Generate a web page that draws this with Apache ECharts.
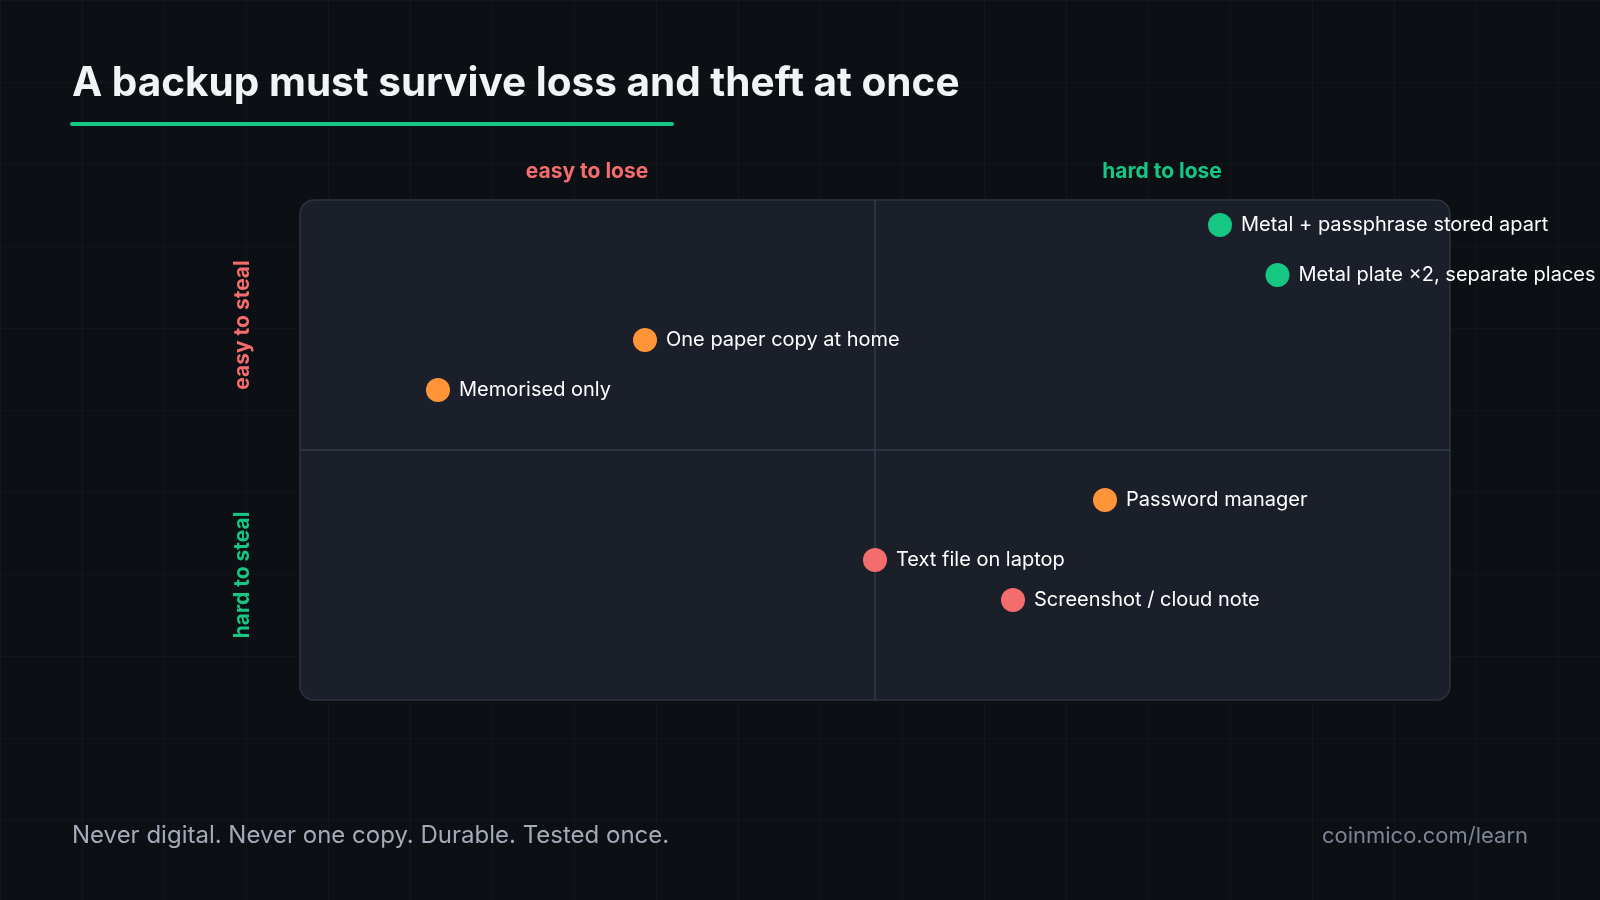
<!DOCTYPE html>
<html><head><meta charset="utf-8">
<script src="https://cdn.jsdelivr.net/npm/echarts@6/dist/echarts.min.js"></script>
<style>
html,body{margin:0;padding:0;background:#0c0f14;}
#c{width:1600px;height:900px;
background-color:#0c0f14;
background-image:linear-gradient(rgba(255,255,255,0.025) 1px,transparent 1px),linear-gradient(90deg,rgba(255,255,255,0.025) 1px,transparent 1px);
background-size:82px 82px;}
</style></head><body><div id="c"></div>
<script>
const names = ["Metal + passphrase stored apart","Metal plate ×2, separate places","One paper copy at home","Memorised only","Password manager","Text file on laptop","Screenshot / cloud note"];
const loseHardness = [80,85,30,12,70,50,62];
const stealHardness = [95,85,72,62,40,28,20];
const colors = ["#16c784","#16c784","#ff9538","#ff9538","#ff9538","#f56c6c","#f56c6c"];
const chart = echarts.init(document.getElementById('c'));
const F = 'Inter, "Noto Sans", sans-serif';
const L=300,T=200,W=1150,H=500;
chart.setOption({
  backgroundColor:'transparent',
  animation:false,
  grid:{left:L,top:T,width:W,height:H},
  xAxis:{type:'value',min:0,max:100,show:false},
  yAxis:{type:'value',min:0,max:100,show:false},
  graphic:[
    {type:'rect',z:-10,shape:{x:L,y:T,width:W,height:H,r:14},style:{fill:'#1a1f29',stroke:'#2c3340',lineWidth:1.5}},
    {type:'text',left:72,top:63,style:{text:'A backup must survive loss and theft at once',fill:'#f2f3f7',font:'bold 40.5px '+F}},
    {type:'rect',shape:{x:70,y:122,width:604,height:4,r:2},style:{fill:'#16c784'}},
    {type:'text',x:587,y:172,style:{text:'easy to lose',fill:'#f56c6c',font:'bold 21px '+F,align:'center',verticalAlign:'middle'}},
    {type:'text',x:1162,y:172,style:{text:'hard to lose',fill:'#16c784',font:'bold 21px '+F,align:'center',verticalAlign:'middle'}},
    {type:'text',x:243,y:325,rotation:Math.PI/2,style:{text:'easy to steal',fill:'#f56c6c',font:'bold 21px '+F,align:'center',verticalAlign:'middle'}},
    {type:'text',x:243,y:575,rotation:Math.PI/2,style:{text:'hard to steal',fill:'#16c784',font:'bold 21px '+F,align:'center',verticalAlign:'middle'}},
    {type:'text',left:72,top:824,style:{text:'Never digital. Never one copy. Durable. Tested once.',fill:'#a4abb8',font:'24px '+F}},
    {type:'text',right:72,top:825,style:{text:'coinmico.com/learn',fill:'#7d8594',font:'22px '+F}}
  ],
  series:[{
    type:'scatter',symbolSize:24,
    data:names.map((n,i)=>({value:[loseHardness[i],stealHardness[i]],name:n,itemStyle:{color:colors[i],opacity:1}})),
    label:{show:true,position:'right',distance:9,formatter:p=>p.name,color:'#ffffff',fontSize:20,fontFamily:F},
    markLine:{silent:true,symbol:'none',label:{show:false},lineStyle:{color:'#343b48',width:1.5,type:'solid',opacity:1},
      data:[{xAxis:50},{yAxis:50}]},
    z:5
  }]
});
</script></body></html>
